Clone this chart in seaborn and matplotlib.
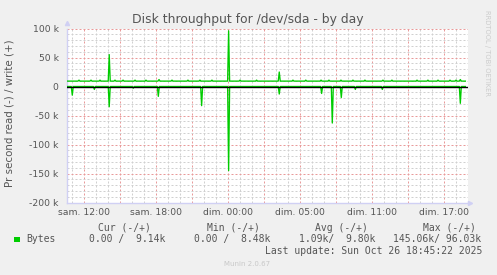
import numpy as np
import pandas as pd
import matplotlib
matplotlib.use("Agg")
import matplotlib.pyplot as plt
from matplotlib.patches import Rectangle
import seaborn as sns

# ---------------- data (hours from left edge of graph) ----------------
write_base = 9300
write_spike_times = [3.52, 7.67, 13.47, 17.69, 32.78]
write_spike_values = [55000, 12000, 96030, 25000, 12000]
write_bump_times = [1.0, 2.0, 2.75, 4.0, 4.67, 5.67, 6.58, 8.75, 10.08, 11.08,
                    12.08, 14.42, 15.8, 18.83, 19.9, 21.17, 21.83, 22.83, 23.83,
                    24.83, 26.33, 27.08, 29.17, 30.08, 30.92, 31.92, 32.42]
write_bump_value = 11000

read_base = 0
read_spike_times = [0.44, 2.28, 3.52, 5.52, 7.61, 11.22, 13.47, 17.69, 21.22,
                    22.11, 22.86, 24.03, 26.28, 32.78]
read_spike_values = [15000, 5000, 35000, 3000, 17000, 33000, 145060, 13000,
                     12000, 63000, 19000, 5000, 5000, 29000]

t_start, t_end = 0.0, 33.2
step = 1 / 12  # 5 minute samples

tick_pos = [1.42, 7.42, 13.42, 19.42, 25.42, 31.42]
tick_labels = ["sam. 12:00", "sam. 18:00", "dim. 00:00", "dim. 05:00",
               "dim. 11:00", "dim. 17:00"]

legend_name = "Bytes"
legend_headers = ["Cur (-/+)", "Min (-/+)", "Avg (-/+)", "Max (-/+)"]
legend_values = ["0.00 /  9.14k", "0.00 /  8.48k", "1.09k/  9.80k", "145.06k/ 96.03k"]
last_update = "Last update: Sun Oct 26 18:45:22 2025"


def build(base, times, values):
    pts = {t_start: base, t_end: base}
    for t, v in zip(times, values):
        pts[round(t - step, 4)] = base
        pts[round(t + step, 4)] = base
    for t, v in zip(times, values):
        pts[round(t, 4)] = v
    ts = sorted(pts)
    return ts, [pts[t] for t in ts]


w_times = write_spike_times + write_bump_times
w_vals = write_spike_values + [write_bump_value] * len(write_bump_times)
wt, wv = build(write_base, w_times, w_vals)
rt, rv = build(read_base, read_spike_times, [-v for v in read_spike_values])

df = pd.concat([
    pd.DataFrame({"time": wt, "value": wv, "series": "write"}),
    pd.DataFrame({"time": rt, "value": rv, "series": "read"}),
], ignore_index=True)

# ---------------- figure ----------------
W, H = 497, 275
fig = plt.figure(figsize=(W / 100, H / 100), dpi=100)
fig.patch.set_facecolor("#F0F0F0")
ax = fig.add_axes([67 / W, 1 - 202.5 / H, 401 / W, 174 / H])
ax.set_facecolor("white")

green = "#00CC00"
sns.lineplot(data=df, x="time", y="value", hue="series",
             palette={"write": green, "read": green}, estimator=None,
             sort=False, legend=False, linewidth=0.95, ax=ax, zorder=3)
ax.axhline(0, color="black", lw=1.0, zorder=4)

ax.set_xlim(0, 33.42)
ax.set_ylim(-200000, 100000)

major_x = [tick_pos[0] + 3 * k for k in range(11)]
minor_x = [tick_pos[0] - 1 + k for k in range(34)]
ax.set_xticks(major_x)
lbls = []
for p in major_x:
    m = [l for tp, l in zip(tick_pos, tick_labels) if abs(tp - p) < 0.01]
    lbls.append(m[0] if m else "")
ax.set_xticklabels(lbls)
ax.set_xticks([m for m in minor_x if 0 < m < 33.42], minor=True)

yt = np.arange(-200000, 100001, 50000)
ax.set_yticks(yt)
ax.set_yticklabels(["0" if v == 0 else f"{int(v/1000)} k" for v in yt])
ax.set_yticks(np.arange(-200000, 100001, 10000), minor=True)

ax.grid(which="minor", color="#D0D0D0", lw=0.72, linestyle=(0, (2, 2)), zorder=0)
ax.grid(which="major", color="#E99A9A", lw=0.72, linestyle=(0, (2, 2)), zorder=1)
ax.set_axisbelow(True)

ax.tick_params(which="both", length=0)
ax.tick_params(axis="y", pad=6, labelsize=6.7, colors="#555555")
ax.tick_params(axis="x", pad=4, labelsize=6.7, colors="#555555")

for s in ["top", "right"]:
    ax.spines[s].set_visible(False)
for s in ["left", "bottom"]:
    ax.spines[s].set_color("#D0D0F4")
    ax.spines[s].set_linewidth(1.0)
ax.plot([0], [1.03], marker="^", color="#D0D0F4", markersize=3,
        transform=ax.transAxes, clip_on=False)
ax.plot([1.005], [0], marker=">", color="#D0D0F4", markersize=3,
        transform=ax.transAxes, clip_on=False)
ax.set_xlabel("")
ax.set_ylabel("")


def px(x, y):
    return x / W, 1 - y / H


fig.text(*px(248, 19), "Disk throughput for /dev/sda - by day", ha="center",
         va="center", fontsize=8.9, color="#555555")
fig.text(*px(10, 113), "Pr second read (-) / write (+)", ha="center",
         va="center", rotation=90, fontsize=7.4, color="#555555")
fig.text(*px(487, 53), "RRDTOOL / TOBI OETIKER", ha="center", va="center",
         rotation=270, fontsize=4.9, color="#CCCCCC")

mono = "DejaVu Sans Mono"
for x, h in zip([98.3, 207, 315, 422.7], legend_headers):
    fig.text(*px(x, 227.7), h, ha="left", va="center", fontsize=7,
             family=mono, color="#555555")
fig.add_artist(Rectangle(px(14, 242), 5.5 / W, 5.5 / H, transform=fig.transFigure,
                         facecolor=green, edgecolor="none"))
fig.text(*px(26.7, 239.3), legend_name, ha="left", va="center", fontsize=7,
         family=mono, color="#555555")
for x, v in zip([89.3, 194, 299.3, 392.7], legend_values):
    fig.text(*px(x, 239.3), v, ha="left", va="center", fontsize=7,
             family=mono, color="#555555")
fig.text(*px(482, 251), last_update, ha="right", va="center", fontsize=7,
         family=mono, color="#555555")
fig.text(*px(247.5, 264.5), "Munin 2.0.67", ha="center", va="center",
         fontsize=5, color="#C8C8C8")

fig.savefig("out.png", dpi=100, facecolor=fig.get_facecolor())
